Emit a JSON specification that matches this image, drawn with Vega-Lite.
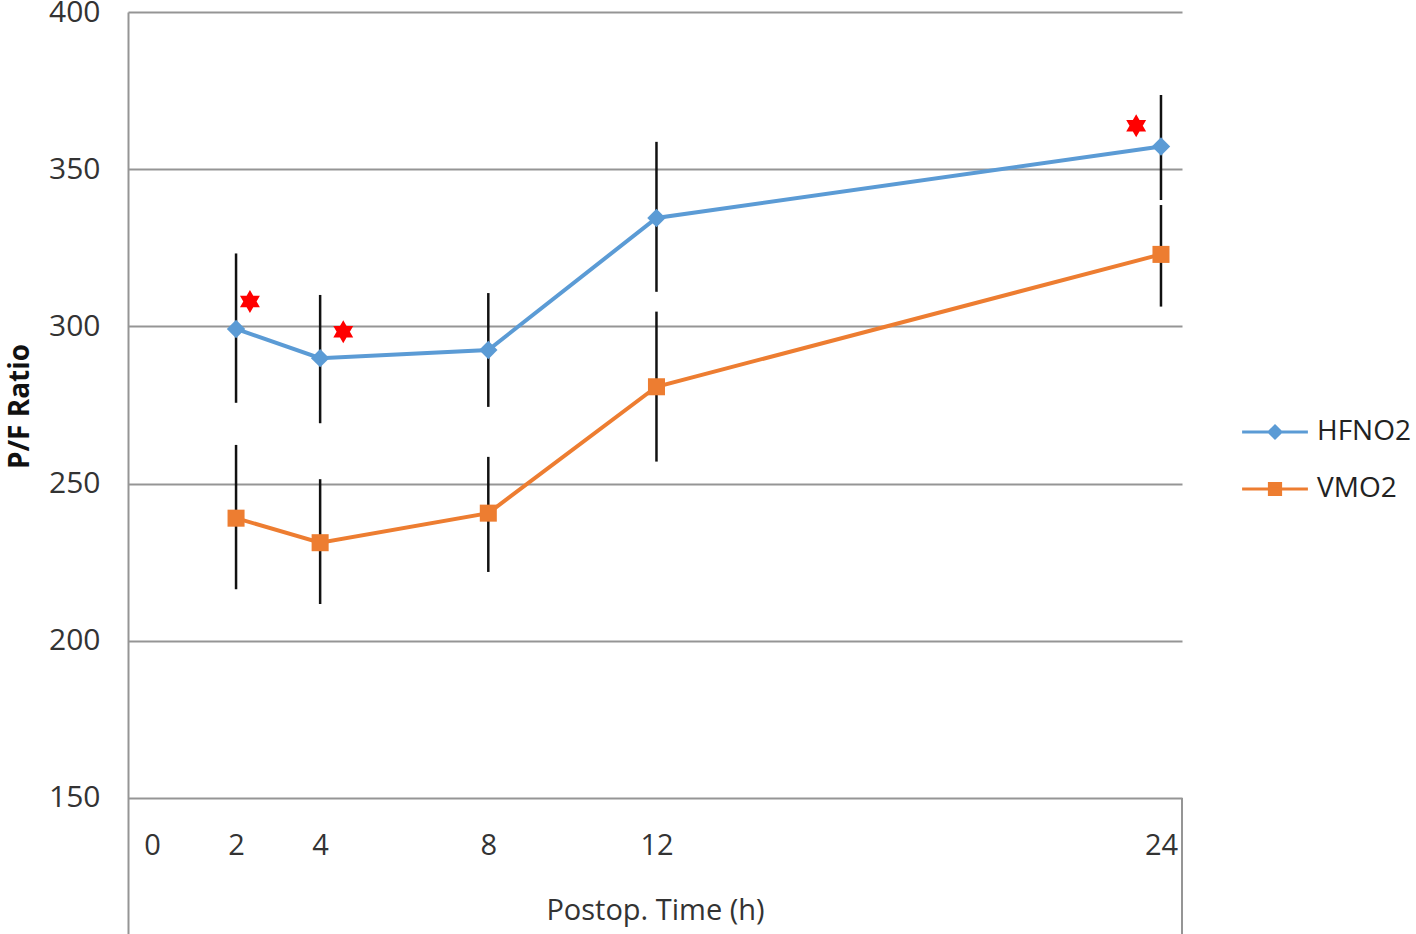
{
  "$schema": "https://vega.github.io/schema/vega-lite/v6.json",
  "width": 1054,
  "height": 922,
  "autosize": {"type": "none"},
  "padding": {"left": 128, "top": 12, "right": 234, "bottom": 0},
  "background": "white",
  "config": {
    "view": {"stroke": null},
    "font": "Open Sans",
    "axis": {"labelFont": "Open Sans", "titleFont": "Open Sans"},
    "legend": {"labelFont": "Open Sans"}
  },
  "datasets": {
    "means": [
      {"series": "HFNO2", "time": 2, "mean": 299.2, "lower": 275.7, "upper": 323.2},
      {"series": "HFNO2", "time": 4, "mean": 289.9, "lower": 269.2, "upper": 310.0},
      {"series": "HFNO2", "time": 8, "mean": 292.5, "lower": 274.4, "upper": 310.6},
      {"series": "HFNO2", "time": 12, "mean": 334.5, "lower": 311.0, "upper": 358.7},
      {"series": "HFNO2", "time": 24, "mean": 357.2, "lower": 340.2, "upper": 373.6},
      {"series": "VMO2", "time": 2, "mean": 239.0, "lower": 216.4, "upper": 262.3},
      {"series": "VMO2", "time": 4, "mean": 231.2, "lower": 211.7, "upper": 251.4},
      {"series": "VMO2", "time": 8, "mean": 240.6, "lower": 221.9, "upper": 258.5},
      {"series": "VMO2", "time": 12, "mean": 280.8, "lower": 257.0, "upper": 304.7},
      {"series": "VMO2", "time": 24, "mean": 322.9, "lower": 306.3, "upper": 338.6}
    ],
    "stars": [
      {"time": 2.33, "value": 307.9},
      {"time": 4.55, "value": 298.3},
      {"time": 23.41, "value": 363.8}
    ]
  },
  "layer": [
    {
      "data": {"name": "means"},
      "mark": {"type": "rule", "color": "#111111", "strokeWidth": 2.5},
      "encoding": {
        "x": {
          "field": "time",
          "type": "quantitative",
          "scale": {"domain": [-0.57, 24.5], "nice": false, "zero": false},
          "axis": {
            "values": [0, 2, 4, 8, 12, 24],
            "title": "Postop. Time (h)",
            "grid": false,
            "ticks": false,
            "tickSize": 0,
            "domain": false,
            "offset": -89,
            "labelBaseline": "middle",
            "labelPadding": 0,
            "labelFontSize": 29,
            "labelColor": "#333333",
            "labelFlush": false,
            "labelOverlap": false,
            "titleFontSize": 29,
            "titleFontWeight": "normal",
            "titleColor": "#333333",
            "titleY": 65,
            "titleBaseline": "middle"
          }
        },
        "y": {
          "field": "lower",
          "type": "quantitative",
          "scale": {"domain": [106.74, 400], "nice": false, "zero": false},
          "axis": {
            "values": [150, 200, 250, 300, 350, 400],
            "title": "P/F Ratio",
            "grid": true,
            "gridColor": "#959595",
            "gridWidth": 2,
            "ticks": false,
            "tickSize": 0,
            "domain": true,
            "domainColor": "#959595",
            "domainWidth": 2,
            "labelPadding": 28,
            "labelFontSize": 30,
            "labelColor": "#333333",
            "titleFontSize": 28,
            "titleFontWeight": "bold",
            "titleColor": "#111111",
            "titleX": -108,
            "titleY": 394,
            "titleBaseline": "middle"
          }
        },
        "y2": {"field": "upper"}
      }
    },
    {
      "data": {"name": "means"},
      "mark": {"type": "line", "strokeWidth": 4},
      "encoding": {
        "x": {"field": "time", "type": "quantitative"},
        "y": {"field": "mean", "type": "quantitative"},
        "color": {
          "field": "series",
          "type": "nominal",
          "scale": {"domain": ["HFNO2", "VMO2"], "range": ["#5B9BD5", "#ED7D31"]},
          "legend": {
            "title": null,
            "orient": "none",
            "legendX": 1133,
            "legendY": 406,
            "padding": 0,
            "symbolSize": 196,
            "symbolType": "M-4.7,0L4.7,0M0,-0.85L0.85,0L0,0.85L-0.85,0Z",
            "symbolStrokeWidth": 3,
            "labelOffset": 28,
            "labelFontSize": 28,
            "labelColor": "#222222",
            "rowPadding": 29,
            "encode": {
              "symbols": {
                "update": {
                  "shape": {"signal": "datum.value === 'HFNO2' ? 'M-4.7,0L4.7,0M0,-0.85L0.85,0L0,0.85L-0.85,0Z' : 'M-4.7,0L4.7,0M-0.8,-0.8L0.8,-0.8L0.8,0.8L-0.8,0.8Z'"},
                  "fill": {"signal": "datum.value === 'HFNO2' ? '#5B9BD5' : '#ED7D31'"},
                  "stroke": {"signal": "datum.value === 'HFNO2' ? '#5B9BD5' : '#ED7D31'"},
                  "strokeWidth": {"value": 3},
                  "opacity": {"value": 1}
                }
              }
            }
          }
        }
      }
    },
    {
      "data": {"name": "means"},
      "transform": [{"filter": "datum.series === 'HFNO2'"}],
      "mark": {"type": "point", "filled": true, "opacity": 1, "shape": "diamond", "size": 340},
      "encoding": {
        "x": {"field": "time", "type": "quantitative"},
        "y": {"field": "mean", "type": "quantitative"},
        "color": {"field": "series", "type": "nominal"}
      }
    },
    {
      "data": {"name": "means"},
      "transform": [{"filter": "datum.series === 'VMO2'"}],
      "mark": {"type": "point", "filled": true, "opacity": 1, "shape": "square", "size": 290},
      "encoding": {
        "x": {"field": "time", "type": "quantitative"},
        "y": {"field": "mean", "type": "quantitative"},
        "color": {"field": "series", "type": "nominal"}
      }
    },
    {
      "data": {"name": "stars"},
      "mark": {
        "type": "point",
        "filled": true,
        "opacity": 1,
        "color": "#FF0000",
        "size": 529,
        "shape": "M0,-1L0.866,0.5L-0.866,0.5Z M0,1L-0.866,-0.5L0.866,-0.5Z"
      },
      "encoding": {
        "x": {"field": "time", "type": "quantitative"},
        "y": {"field": "value", "type": "quantitative"}
      }
    },
    {
      "data": {"values": [{}]},
      "mark": {"type": "rule", "color": "#959595", "strokeWidth": 2},
      "encoding": {
        "x": {"datum": 24.5, "type": "quantitative"},
        "y": {"datum": 150, "type": "quantitative"},
        "y2": {"datum": 106.74}
      }
    }
  ]
}
